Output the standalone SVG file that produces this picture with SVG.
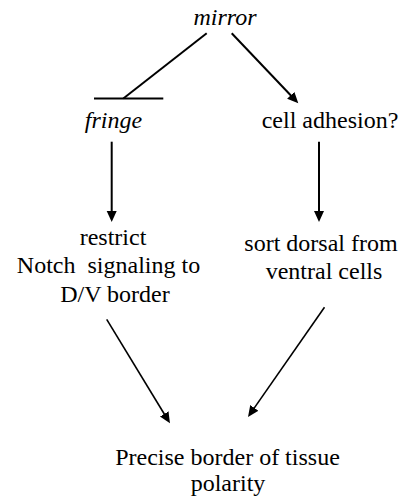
<svg xmlns="http://www.w3.org/2000/svg" width="410" height="496" viewBox="0 0 410 496" font-family="'Liberation Serif', 'Times New Roman', 'DejaVu Serif', serif">
<style>
text{font-family:'Liberation Serif','Times New Roman','DejaVu Serif',serif;font-size:24px;fill:#000;text-anchor:middle}
.it{font-style:italic}
.ln{stroke:#000;stroke-width:2;fill:none}
.thin{stroke-width:1.6}
</style>
<defs>
<marker id="ah" markerUnits="userSpaceOnUse" markerWidth="12" markerHeight="11" refX="3" refY="5" orient="auto" viewBox="0 0 12 11">
<path d="M0,0 L11,5 L0,10 z" fill="#000"/>
</marker>
</defs>
<rect width="410" height="496" fill="#fff"/>
<g id="connectors">
<line class="ln" x1="206.7" y1="33.3" x2="123.3" y2="98.5"/>
<line class="ln" x1="94" y1="98.5" x2="163.3" y2="98.5"/>
<line class="ln" x1="231.7" y1="33.3" x2="292.8" y2="97.5" marker-end="url(#ah)"/>
<line class="ln" x1="111.7" y1="141.7" x2="111.7" y2="214" marker-end="url(#ah)"/>
<line class="ln" x1="319" y1="141.7" x2="319" y2="214" marker-end="url(#ah)"/>
<line class="ln thin" x1="106.7" y1="319.3" x2="165.8" y2="416.5" marker-end="url(#ah)"/>
<line class="ln thin" x1="324.5" y1="307.3" x2="252.6" y2="410.4" marker-end="url(#ah)"/>
</g>
<g id="mirror"><text class="it" x="225" y="25">mirror</text></g>
<g id="fringe"><text class="it" x="113.5" y="128">fringe</text></g>
<g id="cell-adhesion"><text x="330" y="128">cell adhesion?</text></g>
<g id="restrict">
<text x="113" y="245">restrict</text>
<text x="108.5" y="273" xml:space="preserve">Notch  signaling to</text>
<text x="115" y="302">D/V border</text>
</g>
<g id="sort">
<text x="321" y="251">sort dorsal from</text>
<text x="324" y="279">ventral cells</text>
</g>
<g id="precise">
<text x="227.5" y="465">Precise border of tissue</text>
<text x="228" y="491">polarity</text>
</g>
</svg>
